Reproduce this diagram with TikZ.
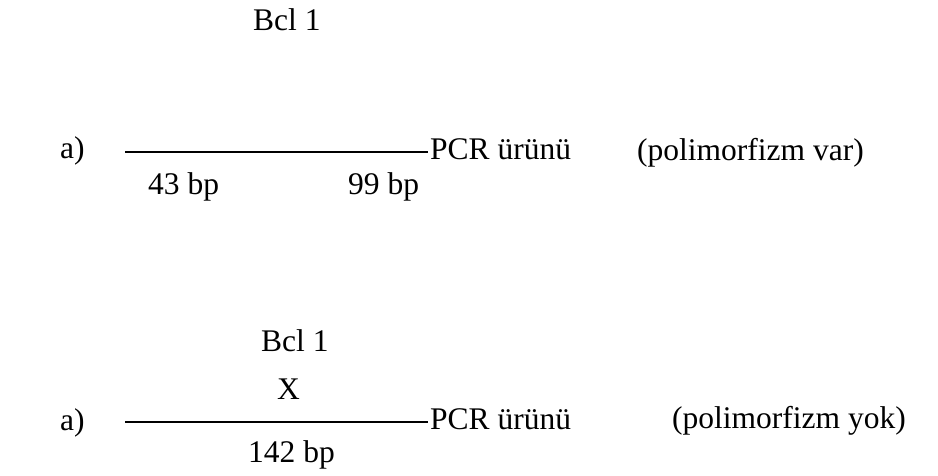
\documentclass[tikz,border=0pt]{standalone}
\usepackage{fontspec}
\setmainfont{Liberation Serif}
\begin{document}
\begin{tikzpicture}[x=1pt,y=-1pt,
  lbl/.style={anchor=base west,inner sep=0pt,font=\fontsize{31.5}{36}\selectfont},
  dna/.style={line width=1.3pt,draw=black}]
\useasboundingbox[fill=white] (0,0) rectangle (938,475);
% group 1
\node[lbl] (bclA) at (253,30) {Bcl 1};
\node[lbl] (aA) at (60,158) {a)};
\node[lbl] (pcrA) at (430,159) {PCR ürünü};
\node[lbl] (polyA) at (637,160) {(polimorfizm var)};
\node[lbl] (bp43) at (148,194) {43 bp};
\node[lbl] (bp99) at (348,194) {99 bp};
\coordinate (sA) at (125,152);
\draw[dna] (sA) -- ([xshift=-2pt]pcrA.west |- sA);
% group 2
\node[lbl] (bclB) at (261,351) {Bcl 1};
\node[lbl] (xB) at (277,399) {X};
\node[lbl] (aB) at (60,430) {a)};
\node[lbl] (pcrB) at (430,429) {PCR ürünü};
\node[lbl] (polyB) at (672,428) {(polimorfizm yok)};
\node[lbl] (bp142) at (248,462) {142 bp};
\coordinate (sB) at (125,422);
\draw[dna] (sB) -- ([xshift=-2pt]pcrB.west |- sB);
\end{tikzpicture}
\end{document}
